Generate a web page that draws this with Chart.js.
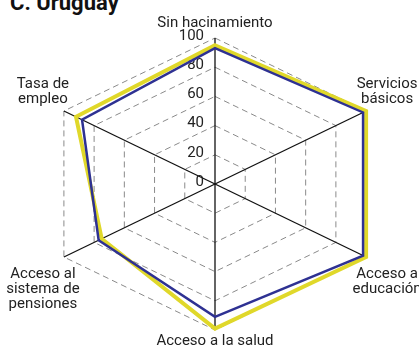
<!DOCTYPE html>
<html>
<head>
<meta charset="utf-8">
<script src="https://cdn.jsdelivr.net/npm/chart.js@4/dist/chart.umd.min.js"></script>
<style>
html,body{margin:0;padding:0;background:#fff;overflow:hidden}
#wrap{position:relative;width:419px;height:348px;overflow:hidden}
#titre{position:absolute;left:10px;top:-8px;font:bold 22px/22px Roboto,"Liberation Sans",sans-serif;color:#111;white-space:nowrap}
#graphOne{position:absolute;left:0;top:0}
</style>
</head>
<body>
<div id="wrap">
  <div id="titre">C. Uruguay</div>
  <canvas id="graphOne" width="419" height="348"></canvas>
</div>
<script>
// D O N N E E S - - - - - - - - - - - - - - - - - - - - - - - - - - - -
let categories= ["Sin hacinamiento","Servicios básicos","Acceso a educación","Acceso a la salud","Acceso al sistema de pensiones","Tasa de empleo"];
let labelLines= [["Sin hacinamiento"],["Servicios","básicos"],["Acceso a","educación"],["Acceso a la salud"],["Acceso al","sistema de","pensiones"],["Tasa de","empleo"]];
let serieBleue= [93, 98, 98, 91, 77, 88];                                       //ligne fine bleu marine
let serieJaune= [95, 100, 100, 99, 75, 92];                                     //ligne epaisse jaune
let tickValues= [0, 20, 40, 60, 80, 100];

let STRETCH_X= 1.195;                                                           //l'hexagone est plus large que haut
let FONT= 'Roboto, "Liberation Sans", sans-serif';

// E C H E L L E   R A D I A L E   E T I R E E - - - - - - - - - - - - - - -
let RadialBase= Chart.registry.getScale("radialLinear");

class StretchedRadial extends RadialBase {
    getPointPosition(index, distance, extra){
        let p= super.getPointPosition(index, distance, extra);
        p.x= this.xCenter + (p.x - this.xCenter) * STRETCH_X;
        return p;
    }
    drawLabels(){                                                               //chiffres a gauche de l'axe vertical
        let ctx= this.ctx;
        let t= this.options.ticks;
        ctx.save();
        ctx.font= Chart.helpers.toFont(t.font).string;
        ctx.fillStyle= t.color;
        ctx.textAlign= "right";
        ctx.textBaseline= "middle";
        this.ticks.forEach(tick => {
            let d= this.getDistanceFromCenterForValue(tick.value);
            ctx.fillText(tick.label, this.xCenter - 11, this.yCenter - d - 2);
        });
        ctx.restore();
    }
}
StretchedRadial.id= "stretchedRadial";
StretchedRadial.defaults= RadialBase.defaults;
Chart.register(StretchedRadial);

// E T I Q U E T T E S   D E S   A X E S - - - - - - - - - - - - - - - - - -
let pointLabelsPlugin= {
    id: "pointLabelsPlugin",
    afterDraw(chart){
        let s= chart.scales.r;
        let ctx= chart.ctx;
        let lh= 15;
        ctx.save();
        ctx.font= "15px " + FONT;
        ctx.fillStyle= "#222";
        ctx.textAlign= "center";
        ctx.textBaseline= "alphabetic";
        labelLines.forEach(function(lines, i){
            let v= s.getPointPosition(i, s.drawingArea);
            let side= Math.abs(v.x - s.xCenter) < 2 ? 0 : Math.sign(v.x - s.xCenter);
            let x= v.x + side * 21;
            let y;
            if (v.y < s.yCenter - 2){
                y= v.y - (side ? 8 : 11) - (lines.length - 1) * lh;
            } else {
                y= v.y + (side ? 21 : 15);
            }
            lines.forEach(function(txt, k){
                ctx.fillText(txt, x, y + k * lh);
            });
        });
        ctx.restore();
    }
};

// G R A P H I Q U E - - - - - - - - - - - - - - - - - - - - - - - - - - -
let graphOne= document.getElementById("graphOne");

new Chart(graphOne, {
    type: "radar",
    data: {
        labels: categories,
        datasets: [
            {data: serieBleue, borderColor: "#2e3192", borderWidth: 2.5, fill: false, pointRadius: 0},
            {data: serieJaune, borderColor: "#e0d82a", borderWidth: 4, fill: false, pointRadius: 0}
        ]
    },
    options: {
        responsive: false,
        animation: false,
        layout: {padding: {top: 31, bottom: 10, left: 62, right: 50}},
        plugins: {legend: {display: false}, tooltip: {enabled: false}, title: {display: false}},
        elements: {line: {tension: 0, borderJoinStyle: "miter"}},
        scales: {
            r: {
                type: "stretchedRadial",
                min: 0,
                max: 100,
                afterBuildTicks: function(sc){ sc.ticks= tickValues.map(v => ({value: v})); },
                ticks: {font: {size: 15, family: FONT}, color: "#222", backdropPadding: 0, showLabelBackdrop: false},
                pointLabels: {display: false},
                grid: {color: "#8a8a8a", lineWidth: 1},
                border: {dash: [6, 4]},
                angleLines: {color: "#111", lineWidth: 1.3}
            }
        }
    },
    plugins: [pointLabelsPlugin]
});
</script>
</body>
</html>
